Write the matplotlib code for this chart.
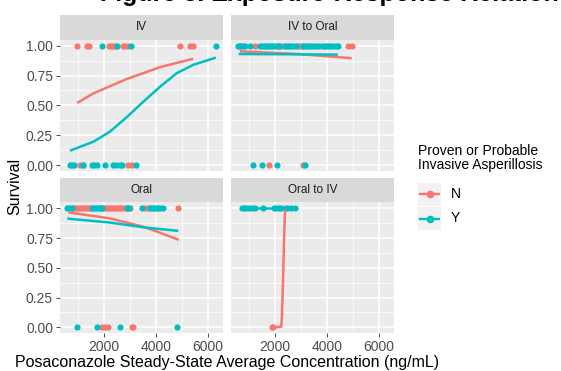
import matplotlib
matplotlib.use("Agg")
import matplotlib.pyplot as plt
from matplotlib.patches import Rectangle
from matplotlib.lines import Line2D

plt.rcParams['font.family'] = ['Liberation Sans', 'DejaVu Sans']

W, H = 561, 371
RED = '#F8766D'
TEAL = '#00BFC4'

# --- data (concentration in ng/mL, survival 0/1) ---
panel_names = ['IV', 'IV to Oral', 'Oral', 'Oral to IV']

# IV
iv_n_alive = [950, 1350, 1420, 2190, 2260, 2330, 2420, 2730, 2800, 2920, 4920, 5300, 5420]
iv_n_dead = [1080, 1190, 2930, 3060]
iv_y_alive = [1910, 2500, 3040, 6300]
iv_y_dead = [690, 760, 830, 1190, 1530, 1620, 1720, 2040, 2350, 2450, 2600, 2680, 3250]
iv_n_fit_x = [970, 1590, 2870, 4150, 5430]
iv_n_fit_y = [0.52, 0.60, 0.72, 0.82, 0.89]
iv_y_fit_x = [690, 1590, 2230, 2870, 3510, 4150, 4800, 5440, 6300]
iv_y_fit_y = [0.12, 0.195, 0.28, 0.40, 0.53, 0.655, 0.77, 0.84, 0.90]

# IV to Oral
ivo_n_alive = [650, 720, 1250, 2120, 2200, 2300, 2890, 2960, 3030, 3730, 4810, 4950]
ivo_n_dead = [1780, 3060]
ivo_y_alive = [560, 640, 760, 850, 1040, 1420, 1500, 1580, 1660, 1740, 1820, 1900,
               1980, 2060, 2140, 2390, 2470, 2550, 2630, 2710, 2790, 3080, 3160,
               3240, 3320, 3400, 3480, 3560, 3650, 3850, 3930, 4010, 4090, 4170,
               4250, 4330, 4420]
ivo_y_dead = [1170, 1490, 2090, 3150]
ivo_n_fit_x = [650, 2900, 4950]
ivo_n_fit_y = [0.953, 0.93, 0.895]
ivo_y_fit_x = [600, 2500, 4420]
ivo_y_fit_y = [0.93, 0.928, 0.925]

# Oral
oral_n_alive = [820, 900, 980, 1060, 1140, 1220, 1300, 1380, 1460, 1530, 1910, 1990,
                2070, 2150, 2230, 2310, 2390, 2470, 2550, 2630, 2710, 2790, 2870,
                3000, 3580, 3690, 4860]
oral_n_dead = [1910, 2040, 2170, 3060, 3130]
oral_y_alive = [560, 620, 680, 757, 1530, 1600, 1680, 1760, 1840, 1910, 2880, 2950,
                3450, 3770, 3850, 3930, 4010, 4090, 4170, 4270]
oral_y_dead = [950, 1720, 2610, 4820]
oral_n_fit_x = [630, 2230, 3510, 4150, 4880]
oral_n_fit_y = [0.965, 0.915, 0.845, 0.795, 0.735]
oral_y_fit_x = [590, 2230, 3510, 4860]
oral_y_fit_y = [0.913, 0.88, 0.84, 0.81]

# Oral to IV
oiv_n_alive = [2390]
oiv_n_dead = [1880, 1920]
oiv_y_alive = [720, 800, 900, 1000, 1100, 1250, 1550, 1950, 2050, 2150, 2250, 2450,
               2600, 2770]
oiv_y_dead = []
oiv_n_fit_x = [1880, 2240, 2270, 2310, 2350, 2390]
oiv_n_fit_y = [0.0, 0.005, 0.1, 0.4, 0.75, 1.0]
oiv_y_fit_x = [720, 2770]
oiv_y_fit_y = [1.0, 1.0]

panel_data = [
    (iv_n_alive, iv_n_dead, iv_y_alive, iv_y_dead,
     iv_n_fit_x, iv_n_fit_y, iv_y_fit_x, iv_y_fit_y),
    (ivo_n_alive, ivo_n_dead, ivo_y_alive, ivo_y_dead,
     ivo_n_fit_x, ivo_n_fit_y, ivo_y_fit_x, ivo_y_fit_y),
    (oral_n_alive, oral_n_dead, oral_y_alive, oral_y_dead,
     oral_n_fit_x, oral_n_fit_y, oral_y_fit_x, oral_y_fit_y),
    (oiv_n_alive, oiv_n_dead, oiv_y_alive, oiv_y_dead,
     oiv_n_fit_x, oiv_n_fit_y, oiv_y_fit_x, oiv_y_fit_y),
]


def box(x0, y0, x1, y1):
    # pixel box (top-left origin) -> figure fraction rect
    return [x0 / W, 1 - y1 / H, (x1 - x0) / W, (y1 - y0) / H]


fig = plt.figure(figsize=(W / 100, H / 100), dpi=100)
fig.patch.set_facecolor('white')

cols = [(60, 223), (231, 394)]
rows = [(15, 39.7, 171), (178, 202.3, 333.3)]  # strip top, panel top, panel bottom

for i, name in enumerate(panel_names):
    r, c = divmod(i, 2)
    x0, x1 = cols[c]
    st, pt, pb = rows[r]
    ax = fig.add_axes(box(x0, pt, x1, pb))
    ax.set_facecolor('#EBEBEB')
    for sp in ax.spines.values():
        sp.set_visible(False)
    ax.set_xlim(308, 6577)
    ax.set_ylim(-0.05, 1.05)
    ax.set_xticks([2000, 4000, 6000])
    ax.set_xticks([1000, 3000, 5000], minor=True)
    ax.set_yticks([0, 0.25, 0.5, 0.75, 1.0])
    ax.set_yticks([0.125, 0.375, 0.625, 0.875], minor=True)
    ax.set_yticklabels(['0.00', '0.25', '0.50', '0.75', '1.00'])
    ax.grid(which='major', color='white', lw=1.1)
    ax.grid(which='minor', color='white', lw=0.55)
    ax.set_axisbelow(True)
    ax.tick_params(which='minor', length=0)
    ax.tick_params(which='major', length=3, width=0.6, color='#333333',
                   labelcolor='#4D4D4D', labelsize=10, pad=2)
    ax.tick_params(axis='x', bottom=(r == 1), labelbottom=(r == 1))
    ax.tick_params(axis='y', left=(c == 0), labelleft=(c == 0))

    n1, n0, y1, y0, nfx, nfy, yfx, yfy = panel_data[i]
    ax.scatter(n1, [1] * len(n1), s=20, color=RED, lw=0, zorder=2, clip_on=False)
    ax.scatter(n0, [0] * len(n0), s=20, color=RED, lw=0, zorder=2, clip_on=False)
    ax.scatter(y1, [1] * len(y1), s=20, color=TEAL, lw=0, zorder=2, clip_on=False)
    ax.scatter(y0, [0] * len(y0), s=20, color=TEAL, lw=0, zorder=2, clip_on=False)
    ax.plot(nfx, nfy, color=RED, lw=1.8, zorder=3, solid_capstyle='butt')
    ax.plot(yfx, yfy, color=TEAL, lw=1.8, zorder=3, solid_capstyle='butt')

    # facet strip
    sax = fig.add_axes(box(x0, st, x1, pt))
    sax.set_facecolor('#D9D9D9')
    sax.set_xticks([])
    sax.set_yticks([])
    for sp in sax.spines.values():
        sp.set_visible(False)
    sax.text(0.5, 0.5, name, ha='center', va='center', fontsize=8.5,
             color='#1A1A1A', transform=sax.transAxes)

# axis titles
fig.text(227 / W, 1 - 362 / H, 'Posaconazole Steady-State Average Concentration (ng/mL)',
         ha='center', va='center', fontsize=11.5, color='black')
fig.text(15 / W, 1 - 186 / H, 'Survival', ha='center', va='center',
         rotation=90, fontsize=11.5, color='black')

# figure title, cut off at the top edge like in the source image
fig.text(100 / W, 1 - 0.5 / H, 'Figure 3. Exposure-Response Relationship',
         ha='left', va='baseline', fontsize=18, fontweight='bold', color='black')

# legend drawn by hand (ggplot style keys)
fig.text(418 / W, 1 - 155 / H, 'Proven or Probable', ha='left', va='baseline',
         fontsize=10, color='black')
fig.text(418 / W, 1 - 168.5 / H, 'Invasive Asperillosis', ha='left', va='baseline',
         fontsize=10, color='black')
for label, col, yc in [('N', RED, 194), ('Y', TEAL, 218.5)]:
    fig.add_artist(Rectangle((418 / W, 1 - (yc + 11.5) / H), 23 / W, 23 / H,
                             transform=fig.transFigure, facecolor='#F2F2F2',
                             edgecolor='none'))
    fig.add_artist(Line2D([420 / W, 439 / W], [1 - yc / H, 1 - yc / H],
                          transform=fig.transFigure, color=col, lw=1.7))
    fig.add_artist(Line2D([429.5 / W], [1 - yc / H], transform=fig.transFigure,
                          color=col, marker='o', markersize=4.5, lw=0))
    fig.text(451 / W, 1 - yc / H, label, ha='left', va='center', fontsize=10,
             color='black')

fig.savefig('out.png', dpi=100)
